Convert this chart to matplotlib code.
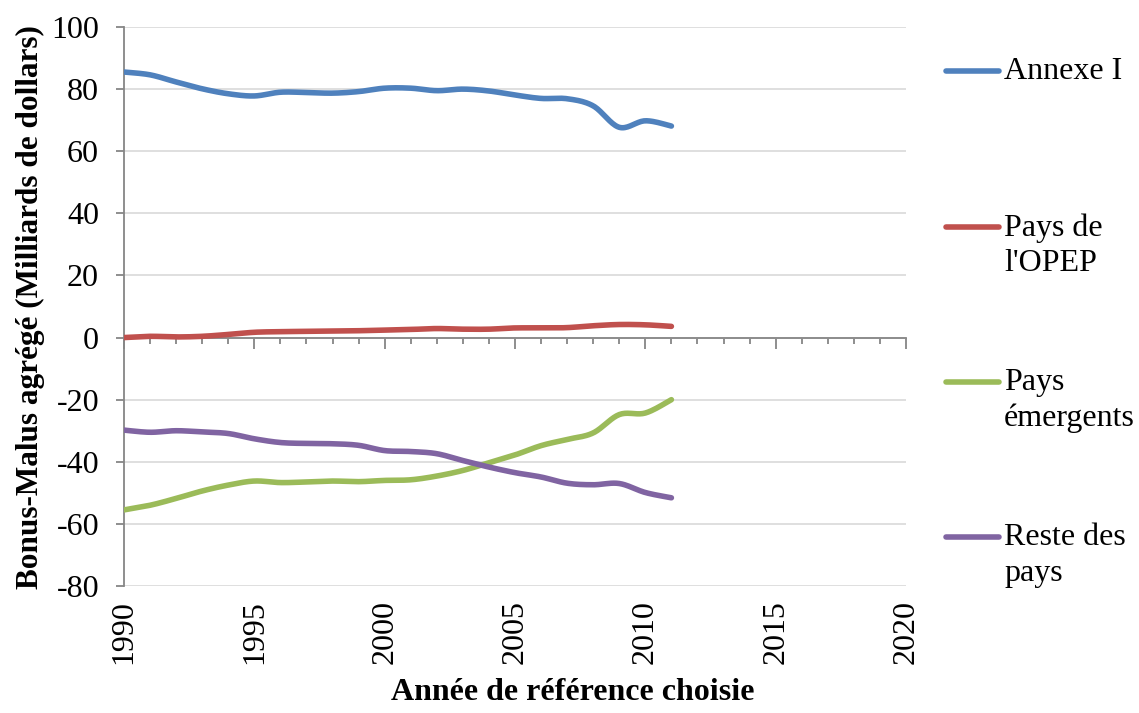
#Bonus-Malus agrege par groupe de pays

#Importing the libraries
import numpy as np
import matplotlib.pyplot as plt
from matplotlib.lines import Line2D
from matplotlib.ticker import MultipleLocator

plt.rcParams['font.family'] = ['Liberation Serif', 'DejaVu Serif']

#Data
years = list(range(1990, 2012))
annexe_i = [85.5, 84.6, 82.3, 80.1, 78.5, 77.8, 79.0, 78.9, 78.7, 79.2, 80.3,
            80.3, 79.5, 80.0, 79.4, 78.1, 77.0, 76.9, 74.6, 67.7, 69.8, 68.1]
opep = [0.0, 0.4, 0.2, 0.4, 1.0, 1.7, 1.9, 2.0, 2.1, 2.2, 2.4,
        2.6, 2.9, 2.7, 2.7, 3.1, 3.1, 3.2, 3.8, 4.2, 4.1, 3.6]
emergents = [-55.5, -54.0, -51.8, -49.4, -47.5, -46.2, -46.7, -46.5, -46.2, -46.4, -46.0,
             -45.8, -44.6, -42.8, -40.3, -37.8, -34.8, -32.8, -30.7, -24.8, -24.3, -20.0]
reste = [-29.8, -30.5, -30.0, -30.4, -30.9, -32.6, -33.8, -34.1, -34.2, -34.7, -36.4,
         -36.7, -37.4, -39.6, -41.7, -43.5, -44.9, -46.9, -47.4, -47.0, -49.9, -51.6]

labels = ['Annexe I', "Pays de\nl'OPEP", 'Pays\némergents', 'Reste des\npays']
colors = ['#4F81BD', '#C0504D', '#9BBB59', '#8064A2']
series = [annexe_i, opep, emergents, reste]


#Excel style smoothed line (cubic bezier through the points)
def smooth(x, y, n=20):
    x = np.asarray(x, float)
    y = np.asarray(y, float)
    px = np.concatenate([[x[0]], x, [x[-1]]])
    py = np.concatenate([[y[0]], y, [y[-1]]])
    xs, ys = [], []
    t = np.linspace(0, 1, n)
    for i in range(1, len(px) - 2):
        p0 = np.array([px[i], py[i]])
        p3 = np.array([px[i + 1], py[i + 1]])
        p1 = p0 + (np.array([px[i + 1], py[i + 1]]) - np.array([px[i - 1], py[i - 1]])) / 6
        p2 = p3 - (np.array([px[i + 2], py[i + 2]]) - np.array([px[i], py[i]])) / 6
        b = ((1 - t) ** 3)[:, None] * p0 + (3 * (1 - t) ** 2 * t)[:, None] * p1 \
            + (3 * (1 - t) * t ** 2)[:, None] * p2 + (t ** 3)[:, None] * p3
        xs.extend(b[:, 0])
        ys.extend(b[:, 1])
    return xs, ys


fig = plt.figure(figsize=(11.39, 7.13), dpi=100)
ax = fig.add_axes([124 / 1139, 1 - 586 / 713, 782 / 1139, 559 / 713])

for vals, c in zip(series, colors):
    sx, sy = smooth(years, vals)
    ax.plot(sx, sy, color=c, lw=4, solid_capstyle='round', zorder=3)

ax.set_xlim(1990, 2020)
ax.set_ylim(-80, 100)
ax.yaxis.set_major_locator(MultipleLocator(20))
ax.grid(axis='y', color='#d9d9d9', lw=1.2, zorder=0)
ax.set_axisbelow(True)

for s in ['top', 'right']:
    ax.spines[s].set_visible(False)
ax.spines['left'].set_color('#868686')
ax.spines['left'].set_linewidth(1.3)
ax.spines['bottom'].set_position(('data', 0))
ax.spines['bottom'].set_color('#868686')
ax.spines['bottom'].set_linewidth(1.3)

ax.tick_params(axis='y', direction='out', length=6, width=1.3, color='#868686',
               labelsize=23, pad=12)
ax.set_yticks(range(-80, 101, 20))
ax.set_yticklabels([str(v) for v in range(-80, 101, 20)])

ax.xaxis.set_major_locator(MultipleLocator(5))
ax.xaxis.set_minor_locator(MultipleLocator(1))
ax.tick_params(axis='x', which='major', direction='out', length=8, width=1.3,
               color='#868686', labelbottom=False)
ax.tick_params(axis='x', which='minor', direction='out', length=4, width=1.3,
               color='#868686')

#Year labels at the bottom of the plot area
sec = ax.secondary_xaxis('bottom')
sec.spines['bottom'].set_visible(False)
sec.set_xticks(range(1990, 2021, 5))
sec.tick_params(length=0, labelsize=23, pad=10, labelrotation=90)

ax.set_xlabel('Année de référence choisie', fontsize=23, fontweight='bold', labelpad=0)
ax.xaxis.set_label_coords(0.574, -0.165)
fig.text(30 / 1139, 1 - 307 / 713, 'Bonus-Malus agrégé (Milliards de dollars)',
         rotation=90, fontsize=22.5, fontweight='bold', ha='center', va='center')

#Legend
legend_y = [71, 227, 382, 537]
for lab, c, yy in zip(labels, colors, legend_y):
    yf = 1 - yy / 713
    fig.add_artist(Line2D([946 / 1139, 999 / 1139], [yf, yf], color=c, lw=4,
                          solid_capstyle='round', transform=fig.transFigure))
    fig.text(1004 / 1139, yf + 14 / 713, lab, fontsize=23, va='top', ha='left',
             linespacing=1.3)

plt.savefig('out.png', dpi=100)
